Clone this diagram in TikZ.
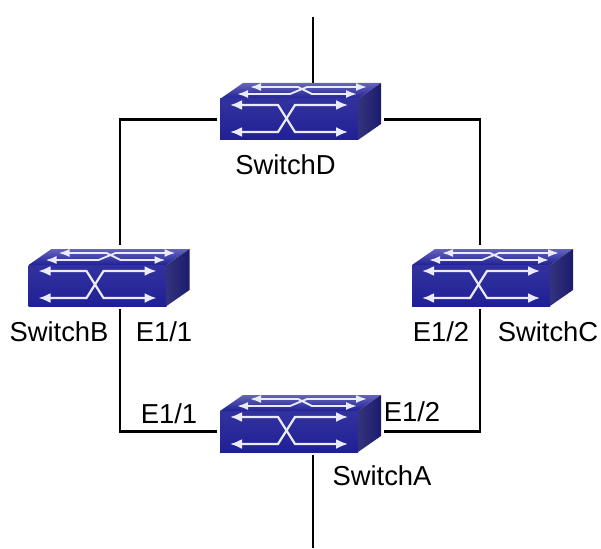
\documentclass[tikz,border=0pt]{standalone}
\usepackage{fontspec}
\setmainfont{Liberation Sans}
\usetikzlibrary{arrows.meta,backgrounds}
\definecolor{frontblue}{RGB}{32,32,150}
\definecolor{topblue}{RGB}{62,62,170}
\definecolor{sideblue}{RGB}{28,28,110}
\tikzset{
  swbody/.style={minimum width=138pt,minimum height=41pt,inner sep=0pt,outer sep=3pt},
  swlabel/.style={font=\fontsize{27.4}{30}\selectfont,inner sep=0pt},
  swarrow/.style={<->,>={Latex[length=12pt,width=10pt]},white!92!blue,line width=2.2pt},
  toparrow/.style={swarrow,>={Latex[length=11pt,width=8pt]},line width=1.8pt},
  link/.style={black,line width=2.6pt},
}
% one switch icon, #1 is the name, #2 the middle of its front face
\newcommand{\switchicon}[2]{
  \node [swbody] (#1) at (#2) {};
  \begin{scope}[shift={(#1.center)},xshift=-69pt,yshift=20.5pt]
    \shade [bottom color=frontblue,top color=topblue!80!white] (0,0)--(23,-16)--(161,-16)--(138,0)--cycle;
    \shade [top color=frontblue!92!white,bottom color=frontblue] (0,0) rectangle (138,41);
    \shade [left color=sideblue!90!white,right color=sideblue] (138,0)--(161,-16)--(161,25)--(138,41)--cycle;
    \draw [swarrow] (10,6)--(58,6)--(75,33)--(128,33);
    \draw [swarrow] (10,33)--(58,33)--(75,6)--(128,6);
    \draw [toparrow] (30,-12)--(78,-12)--(92,-5)--(137,-5);
    \draw [toparrow] (17,-5)--(70,-5)--(87,-12)--(147,-12);
  \end{scope}
}
\begin{document}
\begin{tikzpicture}[x=1pt,y=-1pt]
  \useasboundingbox (0,0) rectangle (601,548);
  \switchicon{swD}{289,119.5}
  \switchicon{swB}{97.5,285.5}
  \switchicon{swC}{481,285.5}
  \switchicon{swA}{289,431.5}

  \coordinate (upTop) at (313,17);
  \coordinate (downEnd) at (313,548);
  \coordinate (leftRun) at (120,245);
  \coordinate (rightRun) at (480,245);
  \coordinate (upEnd) at (313,84);

  \begin{pgfonlayer}{background}
    \draw [link] (upTop)--(upEnd);
    \draw [link] (swD.west) -| (leftRun);
    \draw [link] (swD.east) ++(23,0) -| (rightRun);
    \draw [link] (leftRun |- swB.south) |- (swA.west);
    \draw [link] (rightRun |- swC.south) |- ([xshift=23pt]swA.east);
    \draw [link] (downEnd |- swA.south)--(downEnd);
  \end{pgfonlayer}

  \node [swlabel] (nameD) at (285.5,165) {SwitchD};
  \node [swlabel] (nameB) at (59,332) {SwitchB};
  \node [swlabel] (nameC) at (548,332) {SwitchC};
  \node [swlabel] (nameA) at (382,476) {SwitchA};
  \node [swlabel] (portBa) at (164,332) {E1/1};
  \node [swlabel] (portCb) at (441,332) {E1/2};
  \node [swlabel] (portAa) at (169,414) {E1/1};
  \node [swlabel] (portAb) at (412,412) {E1/2};
\end{tikzpicture}
\end{document}
